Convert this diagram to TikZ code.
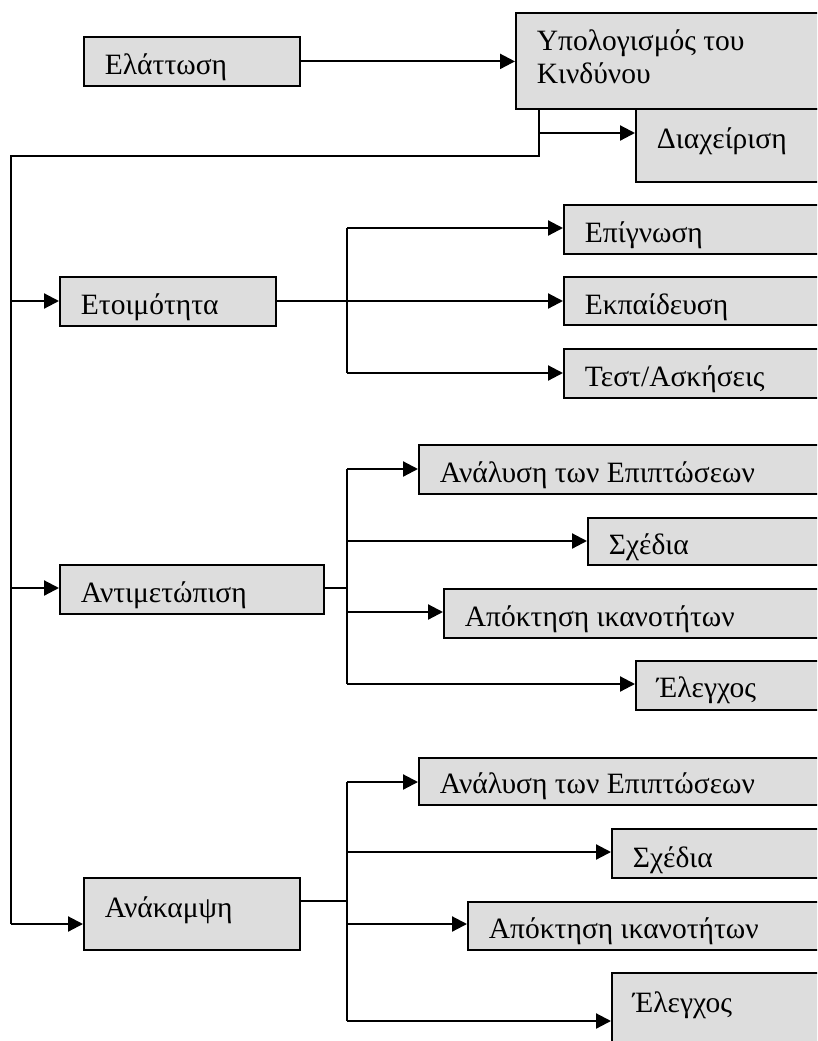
\documentclass[tikz,border=0pt]{standalone}
\usepackage{fontspec}
\setmainfont{Liberation Serif}
\usetikzlibrary{arrows.meta}
\definecolor{boxgray}{RGB}{221,221,221}
\newcommand\bx[2]{\makebox[#1pt][l]{\hspace{21pt}#2}}
\begin{document}
\begin{tikzpicture}[x=1pt,y=-1pt,
  box/.style={draw, line width=1.8pt, fill=boxgray, inner sep=0pt, anchor=north west,
    font=\fontsize{29.5pt}{33pt}\selectfont, text height=38pt, text depth=11pt},
  conn/.style={line width=2.2pt},
  arr/.style={conn, -{Triangle[length=15pt,width=15pt]}}]
\useasboundingbox (0,0) rectangle (817,1041);
\clip (0,0) rectangle (817,1041);
\fill[white] (0,0) rectangle (817,1041);
% top
\node[box] (ela) at (83,36) {\bx{216}{Ελάττωση}};
\node[box, text depth=58pt] (ypo) at (515,12) {\bx{340}{\begin{tabular}[t]{@{}l@{}}Υπολογισμός του\\Κινδύνου\end{tabular}}};
\node[box, text height=40pt, text depth=33pt] (dia) at (635,108) {\bx{220}{Διαχείριση}};
% Ετοιμότητα
\node[box] (eto) at (59,276) {\bx{216}{Ετοιμότητα}};
\node[box] (epi) at (563,204) {\bx{292}{Επίγνωση}};
\node[box, text depth=10pt] (ekp) at (563,276) {\bx{292}{Εκπαίδευση}};
\node[box] (tes) at (563,348) {\bx{292}{Τεστ/Ασκήσεις}};
% Αντιμετώπιση
\node[box] (ant) at (59,564) {\bx{264}{Αντιμετώπιση}};
\node[box] (anla) at (418,444) {\bx{437}{Ανάλυση των Επιπτώσεων}};
\node[box, text height=37pt, text depth=10pt] (sxea) at (587,517) {\bx{268}{Σχέδια}};
\node[box] (apoa) at (443,588) {\bx{412}{Απόκτηση ικανοτήτων}};
\node[box, text height=37pt, text depth=12pt] (elea) at (635,660) {\bx{220}{Έλεγχος}};
% Ανάκαμψη
\node[box, text height=40pt, text depth=32pt] (ank) at (83,877) {\bx{216}{Ανάκαμψη}};
\node[box, text height=36pt, text depth=11pt] (anlb) at (418,757) {\bx{437}{Ανάλυση των Επιπτώσεων}};
\node[box, text height=39pt, text depth=10pt] (sxeb) at (611,828) {\bx{244}{Σχέδια}};
\node[box, text height=37pt, text depth=11pt] (apob) at (467,901) {\bx{388}{Απόκτηση ικανοτήτων}};
\node[box, text height=40pt, text depth=56pt] (eleb) at (611,972) {\bx{244}{Έλεγχος}};
% coordinates
\coordinate (ytop) at (539,108);
\coordinate (ydia) at (539,133);
\coordinate (yjoin) at (539,156);
\coordinate (ltop) at (11,156);
\coordinate (leto) at (11,301);
\coordinate (lant) at (11,588);
\coordinate (lank) at (11,924);
\coordinate (t1a) at (347,228);
\coordinate (t1m) at (347,301);
\coordinate (t1b) at (347,373);
\coordinate (t2a) at (347,469);
\coordinate (t2s) at (347,541);
\coordinate (t2m) at (347,588);
\coordinate (t2p) at (347,612);
\coordinate (t2b) at (347,684);
\coordinate (t3a) at (347,782);
\coordinate (t3s) at (347,852);
\coordinate (t3m) at (347,901);
\coordinate (t3p) at (347,924);
\coordinate (t3b) at (347,1021);
% connectors
\draw[arr] (ela.east) -- (ela.east -| ypo.west);
\draw[conn, line join=miter] (ytop) -- (yjoin) -- (ltop) -- (lank);
\draw[arr] (ydia) -- (ydia -| dia.west);
\draw[arr] (leto) -- (leto -| eto.west);
\draw[arr] (lant) -- (lant -| ant.west);
\draw[arr] (lank) -- (lank -| ank.west);
% Ετοιμότητα branch
\draw[conn] (t1m -| eto.east) -- (t1m);
\draw[conn] (t1a) -- (t1b);
\draw[arr] (t1a) -- (t1a -| epi.west);
\draw[arr] (t1m) -- (t1m -| ekp.west);
\draw[arr] (t1b) -- (t1b -| tes.west);
% Αντιμετώπιση branch
\draw[conn] (t2m -| ant.east) -- (t2m);
\draw[conn] (t2a) -- (t2b);
\draw[arr] (t2a) -- (t2a -| anla.west);
\draw[arr] (t2s) -- (t2s -| sxea.west);
\draw[arr] (t2p) -- (t2p -| apoa.west);
\draw[arr] (t2b) -- (t2b -| elea.west);
% Ανάκαμψη branch
\draw[conn] (t3m -| ank.east) -- (t3m);
\draw[conn] (t3a) -- (t3b);
\draw[arr] (t3a) -- (t3a -| anlb.west);
\draw[arr] (t3s) -- (t3s -| sxeb.west);
\draw[arr] (t3p) -- (t3p -| apob.west);
\draw[arr] (t3b) -- (t3b -| eleb.west);
\end{tikzpicture}
\end{document}
